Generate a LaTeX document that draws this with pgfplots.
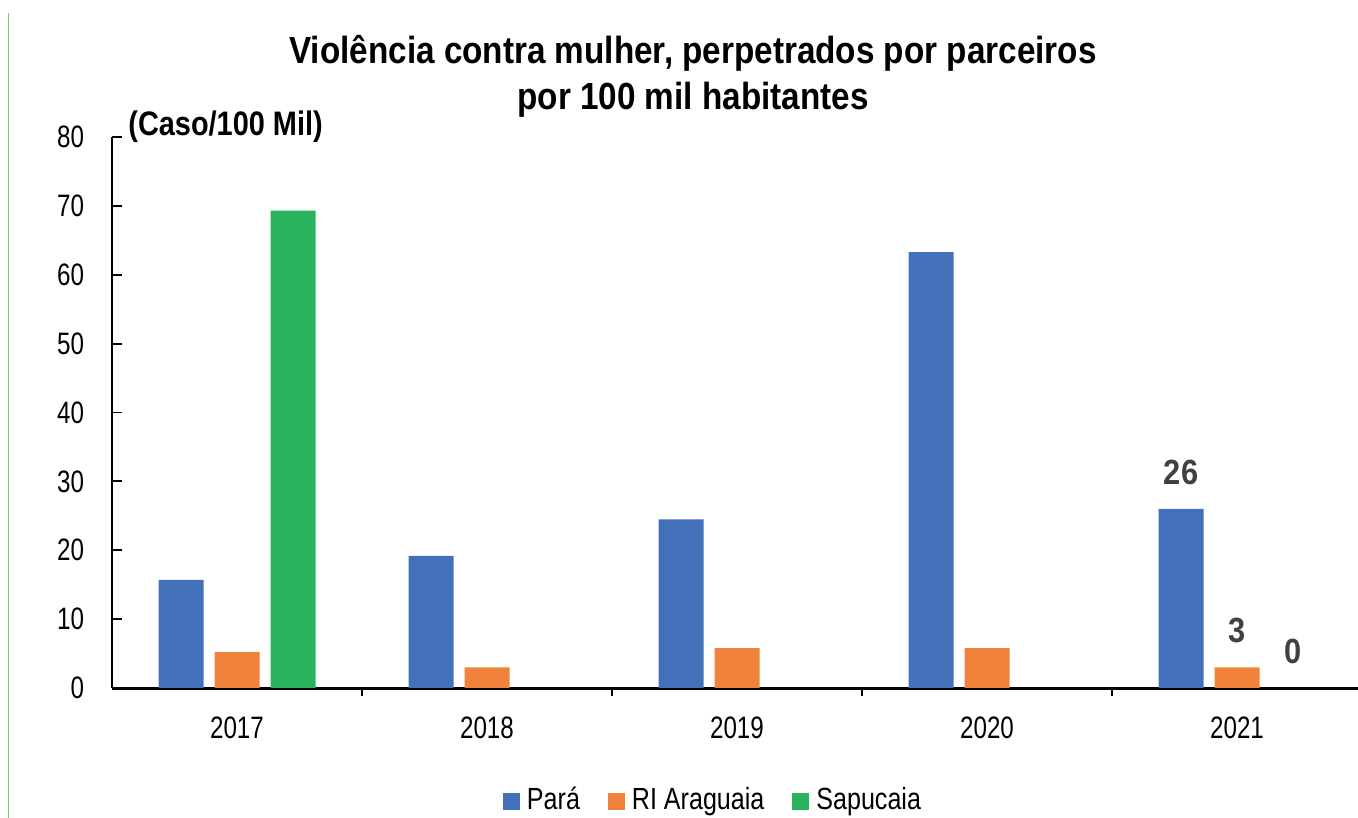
\documentclass[border=0pt]{standalone}
\usepackage{fontspec}
\setmainfont[FakeStretch=0.88]{Liberation Sans}
\newfontfamily\tickfont[FakeStretch=0.78]{Liberation Sans}
\newfontfamily\legfont[FakeStretch=0.82]{Liberation Sans}
\newfontfamily\unitfont[FakeStretch=0.85]{Liberation Sans}
\usepackage{pgfplots}
\pgfplotsset{compat=1.18}
\definecolor{cblue}{HTML}{4271B9}
\definecolor{corange}{HTML}{F0823C}
\definecolor{cgreen}{HTML}{2AB35E}
\definecolor{lblgray}{HTML}{404040}
\definecolor{edgegreen}{HTML}{7CCB7C}

\begin{document}
\begin{tikzpicture}
\useasboundingbox (0,0) rectangle (679bp,409bp);
\draw[color=edgegreen, line width=0.5bp] (4bp,0) -- (4bp,402.5bp);
\node[font=\bfseries\fontsize{18.9bp}{22bp}\selectfont, anchor=base, inner sep=0pt] at (346.5bp,377bp) {Violência contra mulher, perpetrados por parceiros};
\node[font=\bfseries\fontsize{18.9bp}{22bp}\selectfont, anchor=base, inner sep=0pt] at (346.5bp,354bp) {por 100 mil habitantes};
\node[font=\unitfont\bfseries\fontsize{17bp}{19bp}\selectfont, anchor=base west, inner sep=0pt] at (64bp,341bp) {(Caso/100 Mil)};
\begin{axis}[
  at={(56bp,65bp)}, anchor=south west,
  scale only axis, width=625bp, height=275.5bp,
  xmin=-0.5, xmax=4.5, ymin=0, ymax=80,
  axis x line*=bottom, axis y line*=left,
  x axis line style={line width=1.5bp, -},
  y axis line style={line width=0.9bp, -},
  xtick={0,1,2,3,4}, xticklabels={2017,2018,2019,2020,2021},
  minor xtick={0.5,1.5,2.5,3.5},
  major x tick style={draw=none},
  minor x tick style={line width=1.4bp, black},
  minor tick length=4bp,
  ytick={0,10,...,80},
  y tick style={line width=0.9bp, black},
  major tick length=5bp,
  tick align=inside,
  ticklabel style={font=\tickfont\fontsize{15.5bp}{17bp}\selectfont, text=black},
  /pgf/number format/assume math mode=true,
  yticklabel style={xshift=-10.5bp},
  xticklabel style={yshift=-6bp},
  ybar, bar width=22.5bp,
  legend style={at={(0.4816,-0.2033)}, anchor=center, draw=none, fill=none,
    legend columns=-1, font=\legfont\fontsize{15.3bp}{17bp}\selectfont,
    /tikz/every odd column/.append style={column sep=1.5bp},
    /tikz/every even column/.append style={column sep=12bp}},
  legend image code/.code={\fill[#1] (0bp,-5bp) rectangle (8.5bp,3.5bp);},
  every node near coord/.append style={font=\bfseries\fontsize{17.5bp}{20bp}\selectfont,
    text=lblgray, inner sep=0pt, yshift=12bp},
]
\addplot[fill=cblue, draw=none, bar shift=-28bp] coordinates {(0,15.7) (1,19.2) (2,24.5) (3,63.3) (4,26.0)};
\addplot[fill=corange, draw=none, bar shift=0bp] coordinates {(0,5.2) (1,3.0) (2,5.8) (3,5.8) (4,3.0)};
\addplot[fill=cgreen, draw=none, bar shift=28bp] coordinates {(0,69.3) (4,0)};
\legend{Pará, RI Araguaia, Sapucaia}
\addplot[forget plot, fill=none, draw=none, bar shift=-28bp, nodes near coords] coordinates {(4,26)};
\addplot[forget plot, fill=none, draw=none, bar shift=0bp, nodes near coords] coordinates {(4,3)};
\addplot[forget plot, fill=none, draw=none, bar shift=28bp, nodes near coords] coordinates {(4,0)};
\end{axis}
\end{tikzpicture}
\end{document}
